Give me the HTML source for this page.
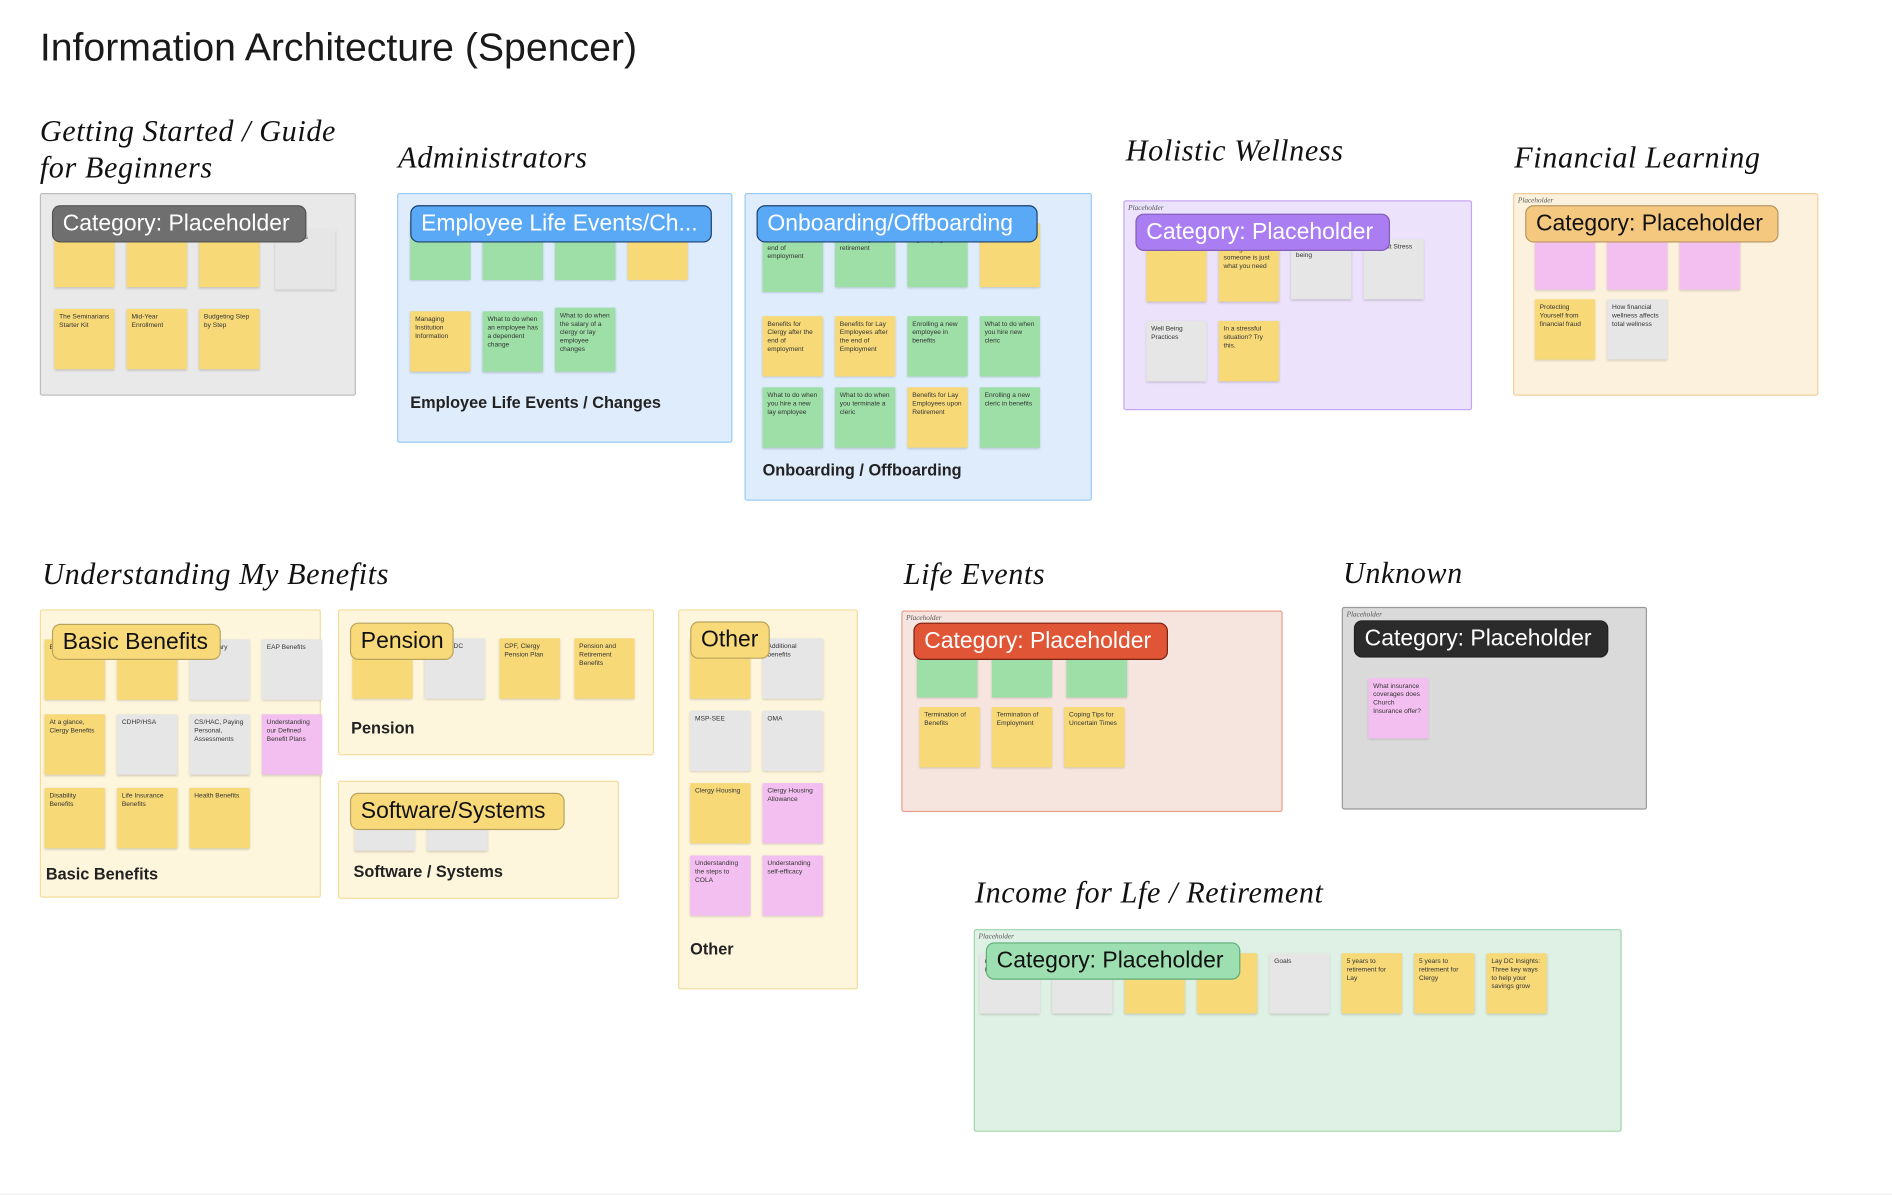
<!DOCTYPE html>
<html><head><meta charset="utf-8"><style>
html,body{margin:0;padding:0;background:#fff;width:1892px;height:1194px;overflow:hidden}
#w{position:absolute;left:0;top:0;width:1568px;height:990px;transform:scale(1.2066);transform-origin:0 0;font-family:"Liberation Sans",sans-serif}
.a{position:absolute}
.h{position:absolute;font-family:"Liberation Serif",serif;font-style:italic;font-size:25px;color:#111;line-height:30px;letter-spacing:0.5px}
.b{position:absolute;border:1px solid;border-radius:2px;box-sizing:border-box}
.l{position:absolute;border-radius:7px;font-size:19px;line-height:29px;padding:0 8px;box-sizing:border-box;white-space:nowrap;overflow:hidden;border:1px solid rgba(0,0,0,.25)}
.s{position:absolute;width:50px;height:50px;box-shadow:0 1px 2px rgba(0,0,0,.18);font-size:5.5px;line-height:7px;color:#333;padding:4px 4px;box-sizing:border-box;overflow:hidden}
.y{background:#f7d978}.g{background:#9ddfa6}.r{background:#e6e6e6}.p{background:#f3bff0}
.f{position:absolute;font-size:13.5px;font-weight:bold;color:#222}
.ph{position:absolute;font-family:"Liberation Serif",serif;font-style:italic;font-size:6px;color:#555}
</style></head><body><div id="w">
<div class="a" style="left:33px;top:21px;font-size:32.5px;color:#1a1a1a">Information Architecture (Spencer)</div>

<!-- Getting started -->
<div class="h" style="left:33px;top:95px">Getting Started / Guide<br>for Beginners</div>
<div class="b" style="left:33px;top:160px;width:262px;height:168px;background:#e9e9e9;border-color:#bdbdbd"></div>
<div class="s y" style="left:45px;top:188px">Enrollment</div>
<div class="s y" style="left:105px;top:188px"></div>
<div class="s y" style="left:165px;top:188px">portal overview</div>
<div class="s r" style="left:228px;top:190px">Webinars</div>
<div class="s y" style="left:45px;top:256px">The Seminarians Starter Kit</div>
<div class="s y" style="left:105px;top:256px">Mid-Year Enrollment</div>
<div class="s y" style="left:165px;top:256px">Budgeting Step by Step</div>
<div class="l" style="left:43px;top:170px;width:211px;height:31px;background:#6f6f6f;color:#fff">Category: Placeholder</div>

<!-- Administrators -->
<div class="h" style="left:330px;top:117px">Administrators</div>
<div class="b" style="left:329px;top:160px;width:278px;height:207px;background:#deecfc;border-color:#9ccbf6"></div>
<div class="s g" style="left:340px;top:182px;height:50px">a domestic partner</div>
<div class="s g" style="left:400px;top:182px">employee benefits</div>
<div class="s g" style="left:460px;top:182px">Employee Marries</div>
<div class="s y" style="left:520px;top:182px"></div>
<div class="s y" style="left:340px;top:258px">Managing Institution Information</div>
<div class="s g" style="left:400px;top:258px">What to do when an employee has a dependent change</div>
<div class="s g" style="left:460px;top:255px;height:53px">What to do when the salary of a clergy or lay employee changes</div>
<div class="l" style="left:340px;top:170px;width:250px;height:31px;background:#5aa9f6;color:#fff;border-color:#1d3f6e">Employee Life Events/Ch...</div>
<div class="f" style="left:340px;top:326px">Employee Life Events / Changes</div>

<!-- Onboarding -->
<div class="b" style="left:617px;top:160px;width:288px;height:255px;background:#deecfc;border-color:#9ccbf6"></div>
<div class="s g" style="left:632px;top:185px;height:57px">employees benefits after the end of employment</div>
<div class="s g" style="left:692px;top:185px;height:53px">employees benefits upon retirement</div>
<div class="s g" style="left:752px;top:185px;height:53px">you terminate a lay employee</div>
<div class="s y" style="left:812px;top:185px;height:53px"></div>
<div class="s y" style="left:632px;top:262px">Benefits for Clergy after the end of employment</div>
<div class="s y" style="left:692px;top:262px">Benefits for Lay Employees after the end of Employment</div>
<div class="s g" style="left:752px;top:262px">Enrolling a new employee in benefits</div>
<div class="s g" style="left:812px;top:262px">What to do when you hire new cleric</div>
<div class="s g" style="left:632px;top:321px">What to do when you hire a new lay employee</div>
<div class="s g" style="left:692px;top:321px">What to do when you terminate a cleric</div>
<div class="s y" style="left:752px;top:321px">Benefits for Lay Employees upon Retirement</div>
<div class="s g" style="left:812px;top:321px">Enrolling a new cleric in benefits</div>
<div class="l" style="left:627px;top:170px;width:233px;height:31px;background:#5aa9f6;color:#fff;border-color:#1d3f6e">Onboarding/Offboarding</div>
<div class="f" style="left:632px;top:382px">Onboarding / Offboarding</div>

<!-- Holistic -->
<div class="h" style="left:933px;top:111px">Holistic Wellness</div>
<div class="b" style="left:931px;top:166px;width:289px;height:174px;background:#ece2fb;border-color:#c5a6f0"></div>
<div class="ph" style="left:935px;top:170px">Placeholder</div>
<div class="s y" style="left:950px;top:200px">Burnout?</div>
<div class="s y" style="left:1010px;top:200px">talking to someone is just what you need</div>
<div class="s r" style="left:1070px;top:198px">physical well-being</div>
<div class="s r" style="left:1130px;top:198px">Burnout Stress</div>
<div class="s r" style="left:950px;top:266px">Well Being Practices</div>
<div class="s y" style="left:1010px;top:266px">In a stressful situation? Try this.</div>
<div class="l" style="left:941px;top:177px;width:211px;height:31px;background:#ab7df2;color:#fff">Category: Placeholder</div>

<!-- Financial -->
<div class="h" style="left:1255px;top:117px">Financial Learning</div>
<div class="b" style="left:1254px;top:160px;width:253px;height:168px;background:#fcf1dc;border-color:#f1cf9c"></div>
<div class="ph" style="left:1258px;top:164px">Placeholder</div>
<div class="s p" style="left:1272px;top:190px"></div>
<div class="s p" style="left:1332px;top:190px">Interest</div>
<div class="s p" style="left:1392px;top:190px">- web)</div>
<div class="s y" style="left:1272px;top:248px">Protecting Yourself from financial fraud</div>
<div class="s r" style="left:1332px;top:248px">How financial wellness affects total wellness</div>
<div class="l" style="left:1264px;top:170px;width:210px;height:31px;background:#f5c880;color:#111">Category: Placeholder</div>

<!-- Understanding -->
<div class="h" style="left:35px;top:462px">Understanding My Benefits</div>
<div class="b" style="left:33px;top:505px;width:233px;height:239px;background:#fdf5dc;border-color:#f3dd9c"></div>
<div class="s y" style="left:37px;top:530px">Benefits</div>
<div class="s y" style="left:97px;top:530px">Benefits</div>
<div class="s r" style="left:157px;top:530px">Preliminary benefits</div>
<div class="s r" style="left:217px;top:530px">EAP Benefits</div>
<div class="s y" style="left:37px;top:592px">At a glance, Clergy Benefits</div>
<div class="s r" style="left:97px;top:592px">CDHP/HSA</div>
<div class="s r" style="left:157px;top:592px">CS/HAC, Paying Personal, Assessments</div>
<div class="s p" style="left:217px;top:592px">Understanding our Defined Benefit Plans</div>
<div class="s y" style="left:37px;top:653px">Disability Benefits</div>
<div class="s y" style="left:97px;top:653px">Life Insurance Benefits</div>
<div class="s y" style="left:157px;top:653px">Health Benefits</div>
<div class="l" style="left:43px;top:517px;width:140px;height:30px;background:#f8da7b;color:#111">Basic Benefits</div>
<div class="f" style="left:38px;top:717px">Basic Benefits</div>

<div class="b" style="left:280px;top:505px;width:262px;height:121px;background:#fdf5dc;border-color:#f3dd9c"></div>
<div class="s y" style="left:292px;top:529px">Plan</div>
<div class="s r" style="left:352px;top:529px">DB and DC Plans</div>
<div class="s y" style="left:414px;top:529px">CPF, Clergy Pension Plan</div>
<div class="s y" style="left:476px;top:529px">Pension and Retirement Benefits</div>
<div class="l" style="left:290px;top:516px;width:86px;height:31px;background:#f8da7b;color:#111">Pension</div>
<div class="f" style="left:291px;top:596px">Pension</div>

<div class="b" style="left:280px;top:647px;width:233px;height:98px;background:#fdf5dc;border-color:#f3dd9c"></div>
<div class="s r" style="left:294px;top:680px;height:25px"></div>
<div class="s r" style="left:354px;top:680px;height:25px"></div>
<div class="l" style="left:290px;top:657px;width:178px;height:31px;background:#f8da7b;color:#111">Software/Systems</div>
<div class="f" style="left:293px;top:715px">Software / Systems</div>

<div class="b" style="left:562px;top:505px;width:149px;height:315px;background:#fdf5dc;border-color:#f3dd9c"></div>
<div class="s y" style="left:572px;top:529px"></div>
<div class="s r" style="left:632px;top:529px">Additional benefits</div>
<div class="s r" style="left:572px;top:589px">MSP-SEE</div>
<div class="s r" style="left:632px;top:589px">OMA</div>
<div class="s y" style="left:572px;top:649px">Clergy Housing</div>
<div class="s p" style="left:632px;top:649px">Clergy Housing Allowance</div>
<div class="s p" style="left:572px;top:709px">Understanding the steps to COLA</div>
<div class="s p" style="left:632px;top:709px">Understanding self-efficacy</div>
<div class="l" style="left:572px;top:515px;width:66px;height:31px;background:#f8da7b;color:#111">Other</div>
<div class="f" style="left:572px;top:779px">Other</div>

<!-- Life Events -->
<div class="h" style="left:749px;top:462px">Life Events</div>
<div class="b" style="left:747px;top:506px;width:316px;height:167px;background:#f6e4df;border-color:#eb9c8c"></div>
<div class="ph" style="left:751px;top:510px">Placeholder</div>
<div class="s g" style="left:760px;top:528px">Life</div>
<div class="s g" style="left:822px;top:528px">registering a domestic partner</div>
<div class="s g" style="left:884px;top:528px">divorce/ separation</div>
<div class="s y" style="left:762px;top:586px">Termination of Benefits</div>
<div class="s y" style="left:822px;top:586px">Termination of Employment</div>
<div class="s y" style="left:882px;top:586px">Coping Tips for Uncertain Times</div>
<div class="l" style="left:757px;top:516px;width:211px;height:31px;background:#e05535;color:#fff;border-color:#7a2210">Category: Placeholder</div>

<!-- Unknown -->
<div class="h" style="left:1113px;top:461px">Unknown</div>
<div class="b" style="left:1112px;top:503px;width:253px;height:168px;background:#dadada;border-color:#999"></div>
<div class="ph" style="left:1116px;top:507px">Placeholder</div>
<div class="s p" style="left:1134px;top:562px">What insurance coverages does Church Insurance offer?</div>
<div class="l" style="left:1122px;top:514px;width:211px;height:31px;background:#2b2b2b;color:#fff">Category: Placeholder</div>

<!-- Income -->
<div class="h" style="left:808px;top:726px">Income for Lfe / Retirement</div>
<div class="b" style="left:807px;top:770px;width:537px;height:168px;background:#dff0e4;border-color:#9fd3ae"></div>
<div class="ph" style="left:811px;top:774px">Placeholder</div>
<div class="s r" style="left:812px;top:790px">retirement impact</div>
<div class="s r" style="left:872px;top:790px"></div>
<div class="s y" style="left:932px;top:790px">planning our benefit</div>
<div class="s y" style="left:992px;top:790px">retirement benefits</div>
<div class="s r" style="left:1052px;top:790px">Goals</div>
<div class="s y" style="left:1112px;top:790px">5 years to retirement for Lay</div>
<div class="s y" style="left:1172px;top:790px">5 years to retirement for Clergy</div>
<div class="s y" style="left:1232px;top:790px">Lay DC Insights: Three key ways to help your savings grow</div>
<div class="l" style="left:817px;top:781px;width:211px;height:31px;background:#9ddfb0;color:#111;border-color:#5fae78">Category: Placeholder</div>

<div class="a" style="left:0;top:989px;width:1568px;height:1px;background:#eee"></div>
</div></body></html>
